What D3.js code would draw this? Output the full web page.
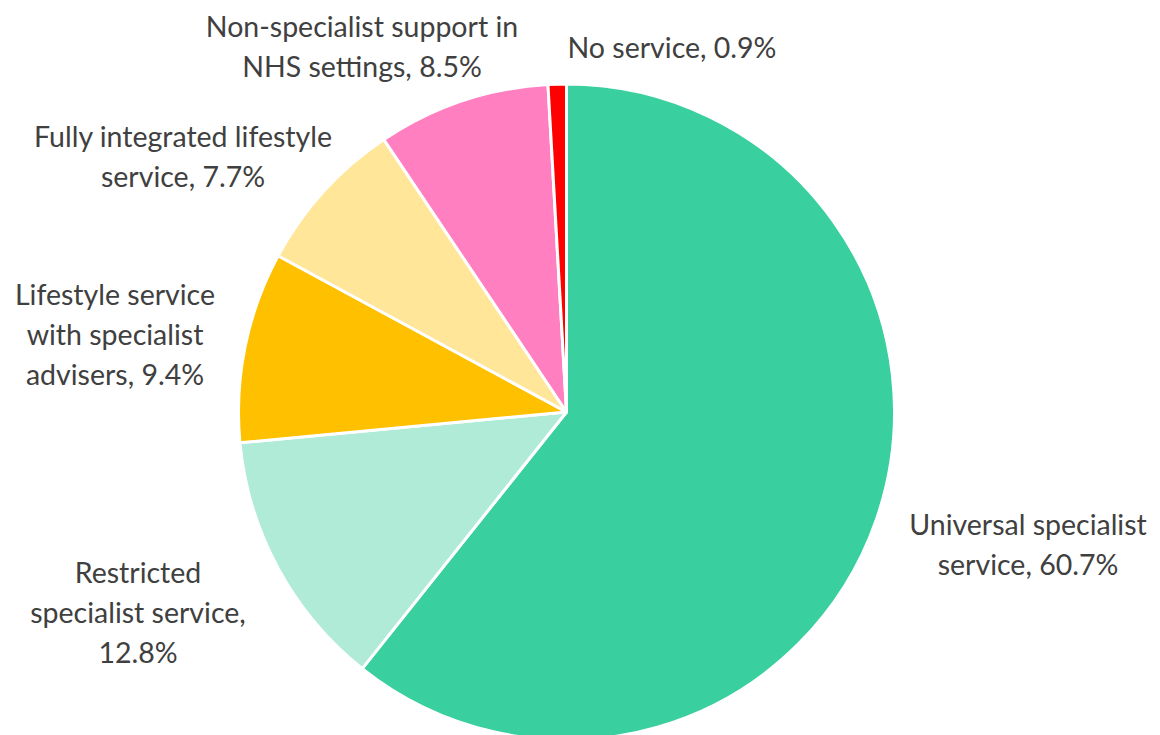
<!DOCTYPE html>
<html>
<head>
<meta charset="utf-8">
<script src="https://cdn.jsdelivr.net/npm/d3@7"></script>
<style>
  html, body { margin: 0; padding: 0; background: #fff; }
  svg { display: block; }
  .lbl { font-family: Lato, "Open Sans", sans-serif; font-size: 28.5px; fill: #404040; }
</style>
</head>
<body>
<svg id="chart" width="1160" height="735"></svg>
<script>
// Service categories, clockwise from 12 o'clock
const categories = [
  "Universal specialist service",
  "Restricted specialist service",
  "Lifestyle service with specialist advisers",
  "Fully integrated lifestyle service",
  "Non-specialist support in NHS settings",
  "No service"
];
const shares = [60.7, 12.8, 9.4, 7.7, 8.5, 0.9];
const colors = ["#3ACF9E", "#B0EBD8", "#FFC000", "#FFE699", "#FF7FC0", "#FF0000"];

// Wrapped label lines for each category (label text ends with the share)
const labelLines = [
  ["Universal specialist", "service, {v}"],
  ["Restricted", "specialist service,", "{v}"],
  ["Lifestyle service", "with specialist", "advisers, {v}"],
  ["Fully integrated lifestyle", "service, {v}"],
  ["Non-specialist support in", "NHS settings, {v}"],
  ["No service, {v}"]
];

// Label anchors (centre of the first line) around the pie
const labelAnchors = [
  [1028, 525], [138, 573], [115, 295], [183, 137], [362, 27], [672, 48]
];

const width = 1160, height = 735;
const cx = 566.5, cy = 412, radius = 328;
const lineGap = 40;

const svg = d3.select("#chart");
const g = svg.append("g").attr("transform", `translate(${cx},${cy})`);

const pie = d3.pie().sort(null).value(d => d)(shares);
const arc = d3.arc().innerRadius(0).outerRadius(radius);

g.selectAll("path.slice")
  .data(pie)
  .join("path")
  .attr("class", "slice")
  .attr("d", arc)
  .attr("fill", (d, i) => colors[i])
  .attr("stroke", "#fff")
  .attr("stroke-width", 3)
  .attr("stroke-linejoin", "round");

const fmt = v => v.toFixed(1) + "%";

const labels = svg.selectAll("text.lbl")
  .data(categories)
  .join("text")
  .attr("class", "lbl")
  .attr("text-anchor", "middle")
  .attr("x", (d, i) => labelAnchors[i][0])
  .attr("y", (d, i) => labelAnchors[i][1]);

labels.each(function(d, i) {
  const t = d3.select(this);
  labelLines[i].forEach((ln, k) => {
    t.append("tspan")
      .attr("x", labelAnchors[i][0])
      .attr("y", labelAnchors[i][1] + k * lineGap)
      .attr("dy", "0.35em")
      .text(ln.replace("{v}", fmt(shares[i])));
  });
});
</script>
</body>
</html>
